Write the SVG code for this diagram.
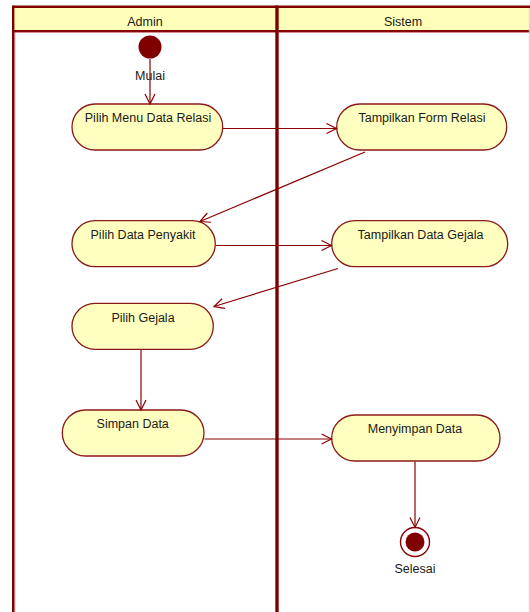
<svg xmlns="http://www.w3.org/2000/svg" width="530" height="612" viewBox="0 0 530 612">
<defs>
<style>
.lane{fill:none;stroke:#800000;}
.hdr{fill:#FFFFB9;}
.node rect{fill:#FFFFC0;stroke:#8B1A1A;stroke-width:1.3;}
text{font-family:"Liberation Sans",Arial,sans-serif;font-size:12.5px;fill:#1a1a1a;text-anchor:middle;}
.conn line{stroke:#8B0000;stroke-width:1.2;marker-end:url(#arr);}
</style>
<marker id="arr" viewBox="0 0 12 12" refX="11" refY="6" markerWidth="12" markerHeight="12" markerUnits="userSpaceOnUse" orient="auto">
<path d="M1,1 L11,6 L1,11" fill="none" stroke="#8B0000" stroke-width="1.2"/>
</marker>
</defs>
<rect width="530" height="612" fill="#ffffff"/>
<g id="swimlanes">
<rect class="hdr" x="13" y="7" width="516" height="24"/>
<line x1="13" y1="6.8" x2="530" y2="6.8" stroke="#800000" stroke-width="2.6"/>
<line x1="13" y1="31" x2="530" y2="31" stroke="#800000" stroke-width="2.2"/>
<line x1="13" y1="32.4" x2="530" y2="32.4" stroke="#c06060" stroke-width="0.8"/>
<line x1="13.2" y1="5.5" x2="13.2" y2="612" stroke="#800000" stroke-width="2.4"/>
<line x1="14.8" y1="32" x2="14.8" y2="612" stroke="#c05a5a" stroke-width="0.8"/>
<line x1="277" y1="5.5" x2="277" y2="612" stroke="#800000" stroke-width="3.4"/>
<line x1="529.3" y1="8" x2="529.3" y2="612" stroke="#e0c8d0" stroke-width="1"/>
<text x="145" y="25.5">Admin</text>
<text x="403" y="25.5">Sistem</text>
</g>
<g id="start">
<circle cx="150" cy="47" r="11.5" fill="#800000"/>
</g>
<g id="n1" class="node"><rect x="72" y="104" width="150.7" height="46" rx="23"/><text x="148" y="122">Pilih Menu Data Relasi</text></g>
<g id="n2" class="node"><rect x="336.7" y="104" width="170" height="46" rx="23"/><text x="422" y="122">Tampilkan Form Relasi</text></g>
<g id="n3" class="node"><rect x="72" y="220.7" width="143.3" height="46" rx="23"/><text x="143" y="238.5">Pilih Data Penyakit</text></g>
<g id="n4" class="node"><rect x="331.7" y="220.7" width="176" height="46" rx="23"/><text x="420.5" y="238.5">Tampilkan Data Gejala</text></g>
<g id="n5" class="node"><rect x="72" y="303.3" width="141.3" height="46" rx="23"/><text x="143" y="321.7">Pilih Gejala</text></g>
<g id="n6" class="node"><rect x="62.3" y="410" width="141.7" height="46" rx="23"/><text x="132.7" y="428.4">Simpan Data</text></g>
<g id="n7" class="node"><rect x="331.7" y="415" width="168.3" height="46" rx="23"/><text x="415" y="433">Menyimpan Data</text></g>
<g id="end">
<circle cx="415" cy="542" r="14.5" fill="#ffffff" stroke="#8B0000" stroke-width="1.4"/>
<circle cx="415" cy="542" r="9.5" fill="#800000"/>
</g>
<g id="connectors" class="conn">
<line x1="150" y1="59" x2="150" y2="104"/>
<line x1="223" y1="128.5" x2="336.5" y2="128.5"/>
<line x1="365" y1="152" x2="200" y2="221.5"/>
<line x1="216" y1="245.5" x2="331.5" y2="245.5"/>
<line x1="338" y1="268.5" x2="214" y2="306.5"/>
<line x1="141" y1="350" x2="141" y2="410"/>
<line x1="204.5" y1="439" x2="331.5" y2="439"/>
<line x1="415" y1="461.5" x2="415" y2="527.5"/>
</g>
<g id="labels">
<text x="150" y="79.5">Mulai</text>
<text x="415" y="572.5">Selesai</text>
</g>
</svg>
